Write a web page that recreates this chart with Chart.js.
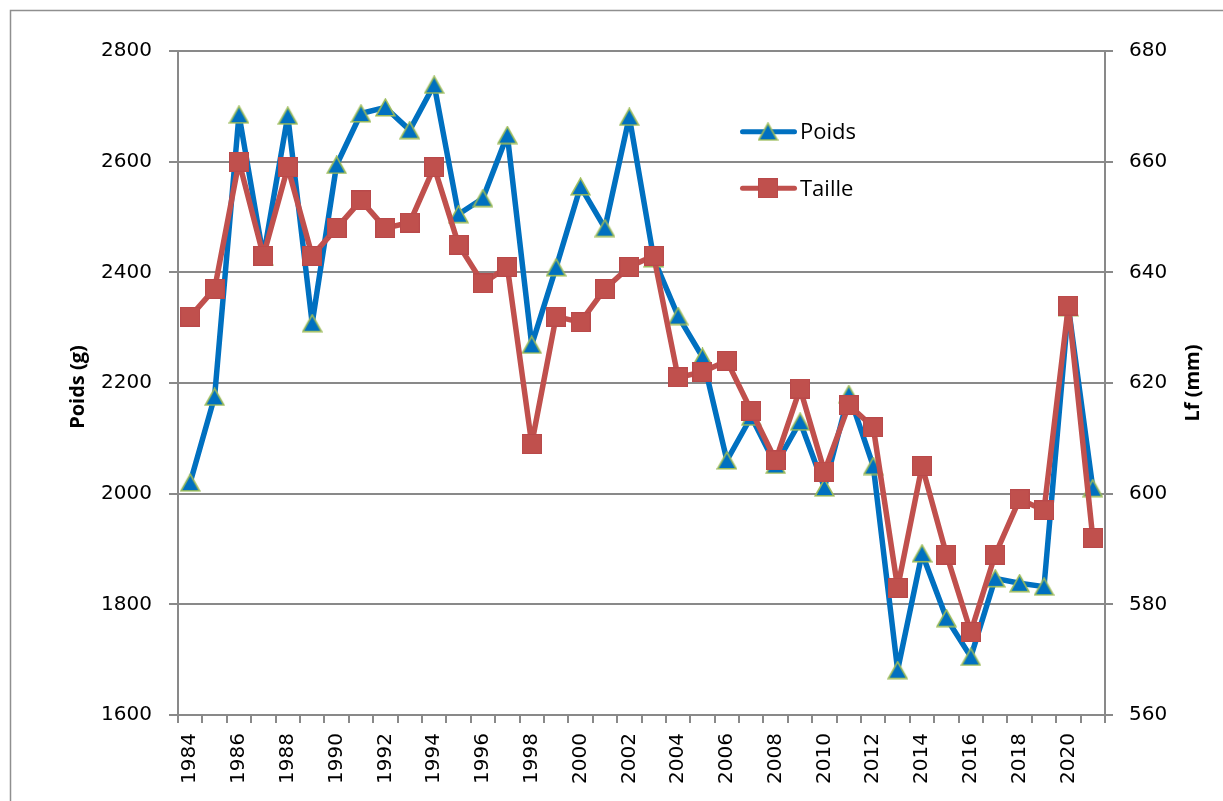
<!DOCTYPE html>
<html>
<head>
<meta charset="utf-8">
<script src="https://cdn.jsdelivr.net/npm/chart.js@4.4.0/dist/chart.umd.min.js"></script>
<style>
html,body{margin:0;padding:0;background:#fff;}
canvas{display:block;}
</style>
</head>
<body>
<canvas id="c" width="1223" height="801"></canvas>
<script>
const years = ['1984','1985','1986','1987','1988','1989','1990','1991','1992','1993','1994','1995','1996','1997','1998','1999','2000','2001','2002','2003','2004','2005','2006','2007','2008','2009','2010','2011','2012','2013','2014','2015','2016','2017','2018','2019','2020','2021'];
const poids = [2020,2175,2685,2428,2683,2308,2594,2687,2698,2657,2739,2505,2534,2648,2269,2409,2555,2480,2681,2425,2321,2247,2060,2139,2052,2130,2011,2180,2050,1681,1892,1775,1705,1847,1838,1832,2337,2010];
const taille = [632,637,660,643,659,643,648,653,648,649,659,645,638,641,609,632,631,637,641,643,621,622,624,615,606,619,604,616,612,583,605,589,575,589,599,597,634,592];
const seriesNames = ['Poids','Taille'];
const leftTitle = 'Poids (g)';
const rightTitle = 'Lf (mm)';

const BLUE = '#0070C0', RED = '#C0504D', GREEN = '#9BBB59', GRID = '#898989';

function makeTriangle(){
  const c = document.createElement('canvas'); c.width = 21; c.height = 19;
  const g = c.getContext('2d');
  g.beginPath(); g.moveTo(10.5,1.2); g.lineTo(19.8,17.8); g.lineTo(1.2,17.8); g.closePath();
  g.fillStyle = BLUE; g.fill(); g.lineWidth = 1.6; g.strokeStyle = GREEN; g.stroke();
  return c;
}
function makeSquare(){
  const c = document.createElement('canvas'); c.width = 20; c.height = 20;
  const g = c.getContext('2d');
  g.fillStyle = RED; g.fillRect(0,0,20,20);
  g.strokeStyle = '#B9494A'; g.lineWidth = 1; g.strokeRect(0.5,0.5,19,19);
  return c;
}
const tri = makeTriangle(), sq = makeSquare();

Chart.defaults.font.family = '"DejaVu Sans"';
Chart.defaults.color = '#000';

const deco = {
  id: 'deco',
  beforeDraw(chart){
    const ctx = chart.ctx;
    ctx.save();
    ctx.strokeStyle = '#8f8f8f'; ctx.lineWidth = 1.5;
    ctx.strokeRect(10.5, 10.5, 1400, 1000);
    ctx.restore();
  },
  afterDraw(chart){
    const ctx = chart.ctx;
    ctx.save();
    ctx.fillStyle = '#000';
    ctx.font = 'bold 20px "Open Sans"';
    ctx.textAlign = 'center'; ctx.textBaseline = 'middle';
    ctx.save(); ctx.translate(78, 387); ctx.rotate(-Math.PI/2); ctx.fillText(leftTitle, 0, 0); ctx.restore();
    ctx.save(); ctx.translate(1193, 383); ctx.rotate(-Math.PI/2); ctx.fillText(rightTitle, 0, 0); ctx.restore();
    const items = [{y:131.7, color:BLUE, img:tri, text:seriesNames[0]},{y:188.3, color:RED, img:sq, text:seriesNames[1]}];
    items.forEach(it => {
      ctx.strokeStyle = it.color; ctx.lineWidth = 5; ctx.lineCap = 'round';
      ctx.beginPath(); ctx.moveTo(742.5, it.y); ctx.lineTo(794.5, it.y); ctx.stroke();
      ctx.drawImage(it.img, 768 - it.img.width/2, it.y - it.img.height/2);
      ctx.fillStyle = '#000'; ctx.font = '22px "Open Sans"'; ctx.textAlign = 'left'; ctx.textBaseline = 'middle';
      ctx.fillText(it.text, 800, it.y + 1);
    });
    ctx.restore();
  }
};

new Chart(document.getElementById('c'), {
  type: 'line',
  data: {
    labels: years,
    datasets: [
      {label: seriesNames[0], data: poids, yAxisID: 'y', borderColor: BLUE, borderWidth: 5.5,
       pointStyle: tri, pointRadius: 10, borderCapStyle:'round', borderJoinStyle:'round', tension: 0, order: 1},
      {label: seriesNames[1], data: taille, yAxisID: 'y1', borderColor: RED, borderWidth: 5.5,
       pointStyle: sq, pointRadius: 10, borderCapStyle:'round', borderJoinStyle:'round', tension: 0, order: 0}
    ]
  },
  options: {
    responsive: false,
    animation: false,
    events: [],
    layout: {padding: {top: 51, left: 0, right: 0, bottom: 0}},
    plugins: {legend: {display: false}, tooltip: {enabled: false}},
    scales: {
      x: {
        type: 'category',
        offset: true,
        grid: {drawOnChartArea: false, offset: true, tickLength: 8, color: GRID, lineWidth: 2},
        border: {display: true, color: GRID, width: 2},
        ticks: {autoSkip: false, maxRotation: 90, minRotation: 90, padding: 10,
                font: {size: 20},
                callback: function(v, i){ return i % 2 === 0 ? years[i] : ''; }},
        afterFit(s){ s.height = 86; }
      },
      y: {
        position: 'left', min: 1600, max: 2800,
        ticks: {stepSize: 200, padding: 17, font: {size: 20}, callback: v => String(v)},
        grid: {color: GRID, lineWidth: 2, tickLength: 9},
        border: {display: true, color: GRID, width: 2},
        afterFit(s){ s.width = 178; }
      },
      y1: {
        position: 'right', min: 560, max: 680,
        ticks: {stepSize: 20, padding: 16, font: {size: 20}, callback: v => String(v)},
        grid: {drawOnChartArea: false, color: GRID, lineWidth: 2, tickLength: 8},
        border: {display: true, color: GRID, width: 2},
        afterFit(s){ s.width = 118; }
      }
    }
  },
  plugins: [deco]
});
</script>
</body>
</html>
